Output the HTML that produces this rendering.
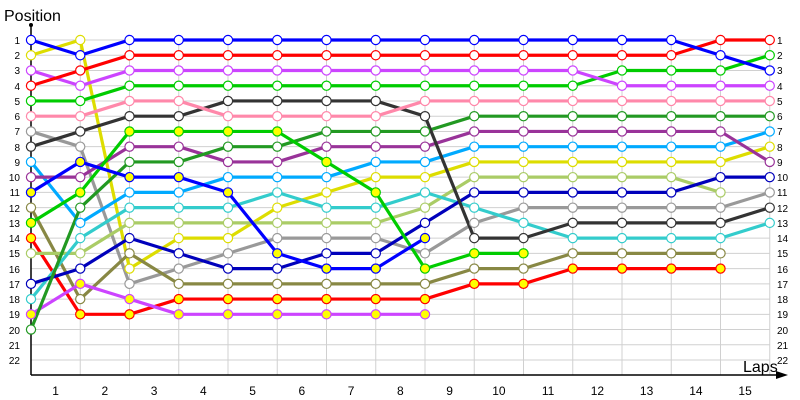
<!DOCTYPE html>
<html><head><meta charset="utf-8"><style>
html,body{margin:0;padding:0;background:#fff;}
svg{display:block;font-family:"Liberation Sans",sans-serif;}
</style></head><body>
<svg id="c" width="800" height="400" xmlns="http://www.w3.org/2000/svg">
<g id="grid"></g>
<line x1="31" y1="25" x2="31" y2="375" stroke="#000" stroke-width="1.5"/>
<circle cx="31" cy="25" r="2" fill="#000"/>
<line x1="31" y1="375" x2="780" y2="375" stroke="#000" stroke-width="1.5"/>
<polygon points="788,375 776,371 776,379" fill="#000"/>
<text x="4" y="21" font-size="16">Position</text>
<text x="743" y="372" font-size="16">Laps</text>
<g font-size="10" text-anchor="end">
<text x="20" y="44">1</text><text x="20" y="59">2</text><text x="20" y="74">3</text><text x="20" y="90">4</text><text x="20" y="105">5</text><text x="20" y="120">6</text><text x="20" y="135">7</text><text x="20" y="151">8</text><text x="20" y="166">9</text><text x="20" y="181">10</text><text x="20" y="196">11</text><text x="20" y="212">12</text><text x="20" y="227">13</text><text x="20" y="242">14</text><text x="20" y="257">15</text><text x="20" y="273">16</text><text x="20" y="288">17</text><text x="20" y="303">18</text><text x="20" y="318">19</text><text x="20" y="334">20</text><text x="20" y="349">21</text><text x="20" y="364">22</text>
</g>
<g font-size="10">
<text x="777" y="44">1</text><text x="777" y="59">2</text><text x="777" y="74">3</text><text x="777" y="90">4</text><text x="777" y="105">5</text><text x="777" y="120">6</text><text x="777" y="135">7</text><text x="777" y="151">8</text><text x="777" y="166">9</text><text x="777" y="181">10</text><text x="777" y="196">11</text><text x="777" y="212">12</text><text x="777" y="227">13</text><text x="777" y="242">14</text><text x="777" y="257">15</text><text x="777" y="273">16</text><text x="777" y="288">17</text><text x="777" y="303">18</text><text x="777" y="318">19</text><text x="777" y="334">20</text><text x="777" y="349">21</text><text x="777" y="364">22</text>
</g>
<g font-size="12" text-anchor="middle">
<text x="55.6" y="395">1</text><text x="104.9" y="395">2</text><text x="154.1" y="395">3</text><text x="203.4" y="395">4</text><text x="252.6" y="395">5</text><text x="301.9" y="395">6</text><text x="351.1" y="395">7</text><text x="400.4" y="395">8</text><text x="449.6" y="395">9</text><text x="498.9" y="395">10</text><text x="548.1" y="395">11</text><text x="597.4" y="395">12</text><text x="646.6" y="395">13</text><text x="695.9" y="395">14</text><text x="745.1" y="395">15</text>
</g>
<g id="series"></g>
</svg>
<script>
var NS="http://www.w3.org/2000/svg";
function X(i){return 31+49.25*i;}
function Y(p){return 40+(p-1)*15.24;}
var g=document.getElementById("grid");
function el(t,a,parent){var e=document.createElementNS(NS,t);for(var k in a)e.setAttribute(k,a[k]);parent.appendChild(e);return e;}
for(var p=1;p<=22;p++)el("line",{x1:31,x2:770,y1:Y(p),y2:Y(p),stroke:"#d0d0d0","stroke-width":1},g);
for(var i=1;i<=15;i++)el("line",{x1:X(i),x2:X(i),y1:40,y2:375,stroke:"#d0d0d0","stroke-width":1},g);
var S=[
["#bbbb00",[2,1,16,14,14,12,11,10,10,9,9,9,9,9,9,8],0],
["#999999",[7,8,17,16,15,14,14,14,15,13,12,12,12,12,12,11],0],
["#888844",[12,18,15,17,17,17,17,17,17,16,16,15,15,15,15],0],
["#ff0000",[14,19,19,18,18,18,18,18,18,17,17,16,16,16,16],1],
["#cc44ff",[19,17,18,19,19,19,19,19,19],1],
["#aacc66",[15,15,13,13,13,13,13,13,12,10,10,10,10,10,11],0],
["#33cccc",[18,14,12,12,12,11,12,12,11,12,13,14,14,14,14,13],0],
["#0000bb",[17,16,14,15,16,16,15,15,13,11,11,11,11,11,10,10],0],
["#00aaff",[9,13,11,11,10,10,10,9,9,8,8,8,8,8,8,7],0],
["#993399",[10,10,8,8,9,9,8,8,8,7,7,7,7,7,7,9],0],
["#229922",[20,12,9,9,8,8,7,7,7,6,6,6,6,6,6,6],0],
["#00cc00",[13,11,7,7,7,7,9,11,16,15,15],1],
["#0000ff",[11,9,10,10,11,15,16,16,14],1],
["#333333",[8,7,6,6,5,5,5,5,6,14,14,13,13,13,13,12],0],
["#ff88aa",[6,6,5,5,6,6,6,6,5,5,5,5,5,5,5,5],0],
["#00cc00",[5,5,4,4,4,4,4,4,4,4,4,4,3,3,3,2],0],
["#cc44ff",[3,4,3,3,3,3,3,3,3,3,3,3,4,4,4,4],0],
["#ff0000",[4,3,2,2,2,2,2,2,2,2,2,2,2,2,1,1],0],
["#0000ff",[1,2,1,1,1,1,1,1,1,1,1,1,1,1,2,3],0]
];
var sg=document.getElementById("series");
S.forEach(function(s){
  var c=s[0]==="#bbbb00"?"#dddd00":s[0];
  var pts=s[1].map(function(p,i){return X(i)+","+Y(p);}).join(" ");
  el("polyline",{points:pts,fill:"none",stroke:c,"stroke-width":3.2,"stroke-linejoin":"round"},sg);
});
S.forEach(function(s){
  var c=s[0]==="#bbbb00"?"#dddd00":s[0];
  s[1].forEach(function(p,i){
    el("circle",{cx:X(i),cy:Y(p),r:4.6,fill:s[2]?"#ffff00":"#fff",stroke:c,"stroke-width":1.2},sg);
  });
});
</script>
</body></html>
